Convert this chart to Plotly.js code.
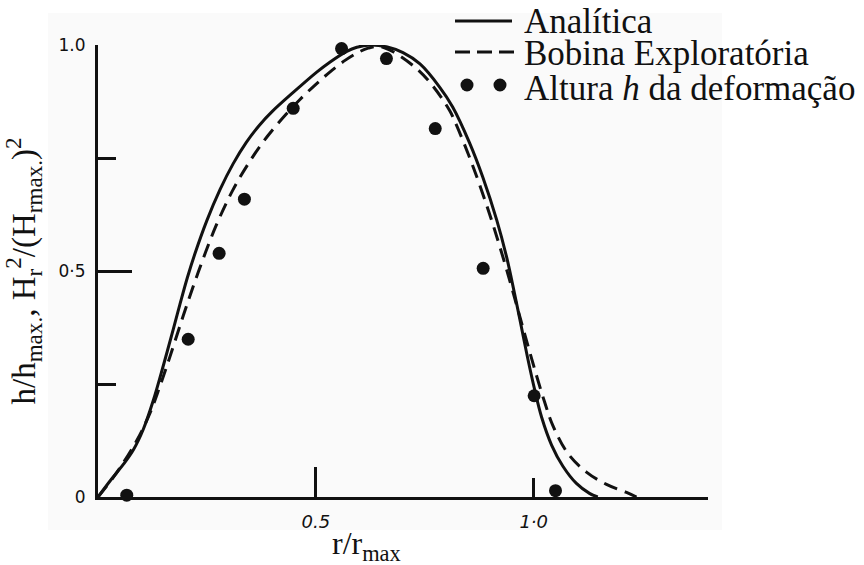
<!DOCTYPE html>
<html>
<head>
<meta charset="utf-8">
<script src="https://cdn.plot.ly/plotly-3.0.1.min.js"></script>
<style>html,body{margin:0;padding:0;background:#fff}</style>
</head>
<body>
<div id="chart" style="width:864px;height:565px"></div>
<script>
// Normalised profiles against r/r_max
const analiticaX = [0, 0.028, 0.058, 0.081, 0.104, 0.127, 0.150, 0.173, 0.188, 0.205, 0.222, 0.250, 0.280, 0.310, 0.340, 0.370, 0.400, 0.448, 0.502, 0.532, 0.571, 0.594, 0.624, 0.662, 0.700, 0.739, 0.784, 0.814, 0.853, 0.883, 0.915, 0.938, 0.956, 0.968, 0.986, 1.002, 1.018, 1.041, 1.067, 1.098, 1.128, 1.147];
const analiticaY = [0, 0.036, 0.072, 0.104, 0.150, 0.214, 0.291, 0.372, 0.426, 0.485, 0.537, 0.612, 0.680, 0.737, 0.784, 0.822, 0.853, 0.895, 0.940, 0.962, 0.986, 0.995, 1.000, 0.996, 0.983, 0.958, 0.907, 0.863, 0.783, 0.708, 0.613, 0.530, 0.450, 0.394, 0.308, 0.238, 0.177, 0.115, 0.068, 0.030, 0.008, 0];

const bobinaX = [0, 0.040, 0.089, 0.119, 0.142, 0.165, 0.196, 0.230, 0.270, 0.310, 0.350, 0.388, 0.430, 0.463, 0.500, 0.532, 0.567, 0.594, 0.620, 0.645, 0.677, 0.731, 0.768, 0.807, 0.823, 0.860, 0.899, 0.929, 0.952, 0.975, 1.000, 1.025, 1.044, 1.078, 1.121, 1.167, 1.213, 1.236];
const bobinaY = [0, 0.050, 0.125, 0.185, 0.245, 0.310, 0.402, 0.497, 0.598, 0.680, 0.745, 0.797, 0.845, 0.879, 0.913, 0.940, 0.966, 0.982, 0.993, 0.997, 0.985, 0.948, 0.910, 0.855, 0.822, 0.733, 0.625, 0.532, 0.455, 0.375, 0.290, 0.210, 0.158, 0.097, 0.055, 0.028, 0.010, 0];

const alturaX = [0.066, 0.207, 0.278, 0.336, 0.448, 0.559, 0.662, 0.774, 0.884, 1.001, 1.050];
const alturaY = [0.004, 0.349, 0.539, 0.659, 0.860, 0.992, 0.970, 0.815, 0.506, 0.224, 0.014];

const xTickVals = [0.5, 1.0];
const xTickText = ['0.5', '1·0'];
const yTickVals = [0, 0.5, 1.0];
const yTickText = ['0', '0·5', '1.0'];

const legendLabels = ['Analítica', 'Bobina Exploratória', 'Altura <i>h</i> da deformação'];
const xTitle = 'r/r<sub>max</sub>';
const yTitle = 'h/h<sub>max.</sub>, H<sub>r</sub><sup>2</sup>/(H<sub>rmax.</sub>)<sup>2</sup>';

const W = 864, H = 565;
const M = {l: 98, r: 156, t: 45, b: 68};
const pw = W - M.l - M.r, ph = H - M.t - M.b;
// pixel -> paper helpers for the hand-built key
const px = v => (v - M.l) / pw;
const py = v => (H - M.b - v) / ph;

const ink = '#111';
const serif = 'Liberation Serif, Times New Roman, serif';
const hand = 'DejaVu Sans, sans-serif';

const traces = [
  {x: analiticaX, y: analiticaY, mode: 'lines', name: legendLabels[0],
   line: {color: ink, width: 3, shape: 'spline', smoothing: 1}, cliponaxis: false, showlegend: false},
  {x: bobinaX, y: bobinaY, mode: 'lines', name: 'Bobina Exploratória',
   line: {color: ink, width: 3, dash: '14px,8px', shape: 'spline', smoothing: 1}, cliponaxis: false, showlegend: false},
  {x: alturaX, y: alturaY, mode: 'markers', name: 'Altura h da deformação',
   marker: {color: ink, size: 13}, cliponaxis: false, showlegend: false},
  // carrier for the overlay axes that hold the tick strokes
  {x: [], y: [], xaxis: 'x2', yaxis: 'y2', mode: 'markers', showlegend: false, hoverinfo: 'skip'}
];

const rowY = [21, 52, 87];
const shapes = [
  {type: 'rect', xref: 'paper', yref: 'paper', x0: px(48), x1: px(722), y0: py(530), y1: py(13),
   fillcolor: '#fafafa', line: {width: 0}, layer: 'below'},
  {type: 'line', xref: 'paper', yref: 'paper', x0: px(455), x1: px(512), y0: py(rowY[0]), y1: py(rowY[0]),
   line: {color: ink, width: 3}},
  {type: 'line', xref: 'paper', yref: 'paper', x0: px(455), x1: px(517), y0: py(rowY[1]), y1: py(rowY[1]),
   line: {color: ink, width: 3, dash: '15px,7px'}},
  {type: 'circle', xref: 'paper', yref: 'paper', xsizemode: 'pixel', ysizemode: 'pixel',
   xanchor: px(467), yanchor: py(rowY[2] - 2), x0: -6.5, x1: 6.5, y0: -6.5, y1: 6.5,
   fillcolor: ink, line: {width: 0}},
  {type: 'circle', xref: 'paper', yref: 'paper', xsizemode: 'pixel', ysizemode: 'pixel',
   xanchor: px(500), yanchor: py(rowY[2] - 2), x0: -6.5, x1: 6.5, y0: -6.5, y1: 6.5,
   fillcolor: ink, line: {width: 0}}
];

const annotations = legendLabels.map((t, i) => ({
  text: t, xref: 'paper', yref: 'paper', x: px(522), y: py(rowY[i] + 1),
  xanchor: 'left', yanchor: 'middle', showarrow: false,
  font: {family: serif, size: 35, color: ink}
}));
annotations.push({
  text: xTitle, xref: 'paper', yref: 'paper', x: px(366), y: py(545),
  xanchor: 'center', yanchor: 'middle', showarrow: false,
  font: {family: serif, size: 32, color: ink}
});

const layout = {
  width: W, height: H, margin: M,
  paper_bgcolor: '#ffffff', plot_bgcolor: 'rgba(0,0,0,0)',
  showlegend: false,
  xaxis: {
    range: [0, 1.4], showgrid: false, zeroline: false,
    showline: true, linecolor: ink, linewidth: 3,
    tickmode: 'array', tickvals: xTickVals, ticktext: xTickText, ticks: '',
    tickfont: {family: hand, size: 18, color: ink, style: 'italic'},
    ticklabelstandoff: 6
  },
  yaxis: {
    range: [0, 1.0], showgrid: false, zeroline: false,
    showline: true, linecolor: ink, linewidth: 3,
    tickmode: 'array', tickvals: yTickVals, ticktext: yTickText, ticks: '',
    tickfont: {family: hand, size: 17, color: ink},
    ticklabelstandoff: 6,
    automargin: false,
    title: {text: yTitle, font: {family: serif, size: 33, color: ink}, standoff: 17}
  },
  xaxis2: {
    overlaying: 'x', anchor: 'y', side: 'bottom', range: [0, 1.4],
    showgrid: false, zeroline: false, showline: false, showticklabels: false,
    tickmode: 'array', tickvals: [0.5], ticks: 'inside', ticklen: 30, tickwidth: 3, tickcolor: ink,
    minor: {tickmode: 'array', tickvals: [1.0], ticks: 'inside', ticklen: 19, tickwidth: 3, tickcolor: ink}
  },
  yaxis2: {
    overlaying: 'y', anchor: 'x', side: 'left', range: [0, 1.0],
    showgrid: false, zeroline: false, showline: false, showticklabels: false,
    tickmode: 'array', tickvals: [0.5], ticks: 'inside', ticklen: 34, tickwidth: 3, tickcolor: ink,
    minor: {tickmode: 'array', tickvals: [0.25, 0.75], ticks: 'inside', ticklen: 18, tickwidth: 3, tickcolor: ink}
  },
  shapes: shapes,
  annotations: annotations
};

Plotly.newPlot('chart', traces, layout, {staticPlot: true, displayModeBar: false});
</script>
</body>
</html>
